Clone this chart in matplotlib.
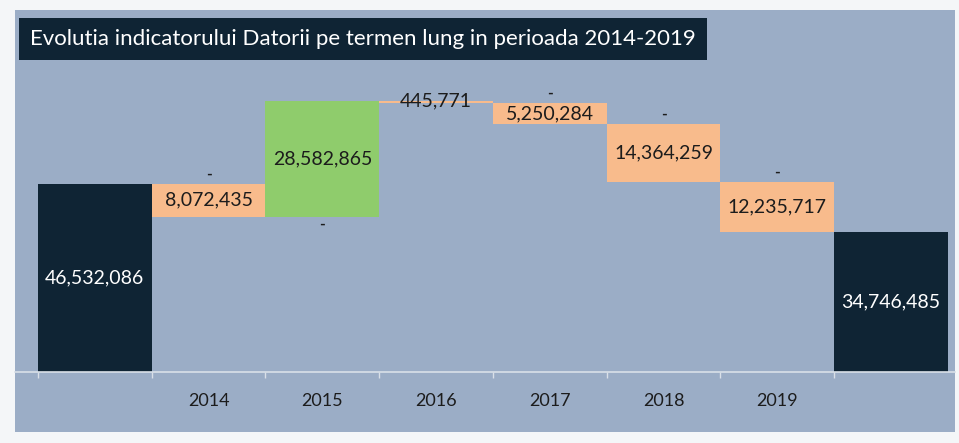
"""
plot.py: waterfall chart of long-term debt 2014-2019
"""

import matplotlib.pyplot as plt
from matplotlib.patches import Rectangle

plt.rcParams['font.family'] = ['Lato', 'DejaVu Sans']

# Data
start_value = 46532086
end_value = 34746485
years = ['2014', '2015', '2016', '2017', '2018', '2019']
changes = [-8072435, 28582865, -445771, -5250284, -14364259, -12235717]

title = 'Evolutia indicatorului Datorii pe termen lung in perioada 2014-2019'

# Colors
NAVY = '#0f2434'
ORANGE = '#f8bb8c'
GREEN = '#8fcc6c'
PANEL = '#9badc6'
TEXT = '#1c1c1c'

W, H = 959, 443
fig = plt.figure(figsize=(W / 100, H / 100), dpi=100)
fig.patch.set_facecolor('#f4f6f8')

# Background panel
fig.patches.append(Rectangle((15 / W, 1 - 432 / H), 940 / W, 422 / H,
                             transform=fig.transFigure, facecolor=PANEL,
                             edgecolor='none', zorder=-10))

# Axes: baseline at px 372, bars from px 38 to 948
base_px, top_px = 372, 10
ax = fig.add_axes([15 / W, 1 - base_px / H, 940 / W, (base_px - top_px) / H])
ax.set_facecolor('none')
ax.set_zorder(1)
px_per_m = 4.04
ax.set_ylim(0, (base_px - top_px) / px_per_m * 1e6)
ax.set_xlim(-0.5 - 23 / 114, 7.5 + 7 / 114)

# Start bar
ax.bar(0, start_value, width=1.0, color=NAVY)
ax.text(0, start_value / 2, f'{start_value:,}', color='white',
        ha='center', va='center', fontsize=14)

# Change bars
level = start_value
for i, ch in enumerate(changes, start=1):
    new_level = level + ch
    bottom = min(level, new_level)
    color = GREEN if ch > 0 else ORANGE
    ax.bar(i, abs(ch), bottom=bottom, width=1.0, color=color)
    label = f'{abs(ch):,}'
    if abs(ch) < 2e6:
        # too small to hold its label
        ax.text(i, level, label, color=TEXT, ha='center', va='center',
                fontsize=14)
    else:
        ax.text(i, bottom + abs(ch) / 2, label, color=TEXT,
                ha='center', va='center', fontsize=14)
        if ch > 0:
            ax.annotate('-', (i, bottom), xytext=(0, -6),
                        textcoords='offset points', ha='center', va='center',
                        fontsize=11, color=TEXT, fontweight='bold')
        else:
            ax.annotate('-', (i, level), xytext=(0, 7),
                        textcoords='offset points', ha='center', va='center',
                        fontsize=11, color=TEXT, fontweight='bold')
    level = new_level

# End bar
end_x = len(changes) + 1
ax.bar(end_x, end_value, width=1.0, color=NAVY)
ax.text(end_x, end_value / 2, f'{end_value:,}', color='white',
        ha='center', va='center', fontsize=14)

# Axis styling
for side in ['top', 'right', 'left']:
    ax.spines[side].set_visible(False)
ax.spines['bottom'].set_color('#d9e0e8')
ax.spines['bottom'].set_linewidth(1.2)
ax.set_yticks([])
ax.set_xticks([k - 0.5 for k in range(len(changes) + 2)], minor=False)
ax.set_xticklabels([])
ax.tick_params(axis='x', which='major', length=4, color='#d9e0e8', width=1)
ax.set_xticks(range(1, len(changes) + 1), minor=True)
ax.set_xticklabels(years, minor=True)
ax.tick_params(axis='x', which='minor', length=0, pad=15, labelsize=13,
               labelcolor=TEXT)

# Title box
fig.text(30 / W, 1 - 39 / H, title, color='white', fontsize=16,
         ha='left', va='center',
         bbox=dict(boxstyle='square,pad=0.5', facecolor=NAVY,
                   edgecolor='none'))

fig.savefig('out.png', dpi=100, facecolor=fig.get_facecolor())
